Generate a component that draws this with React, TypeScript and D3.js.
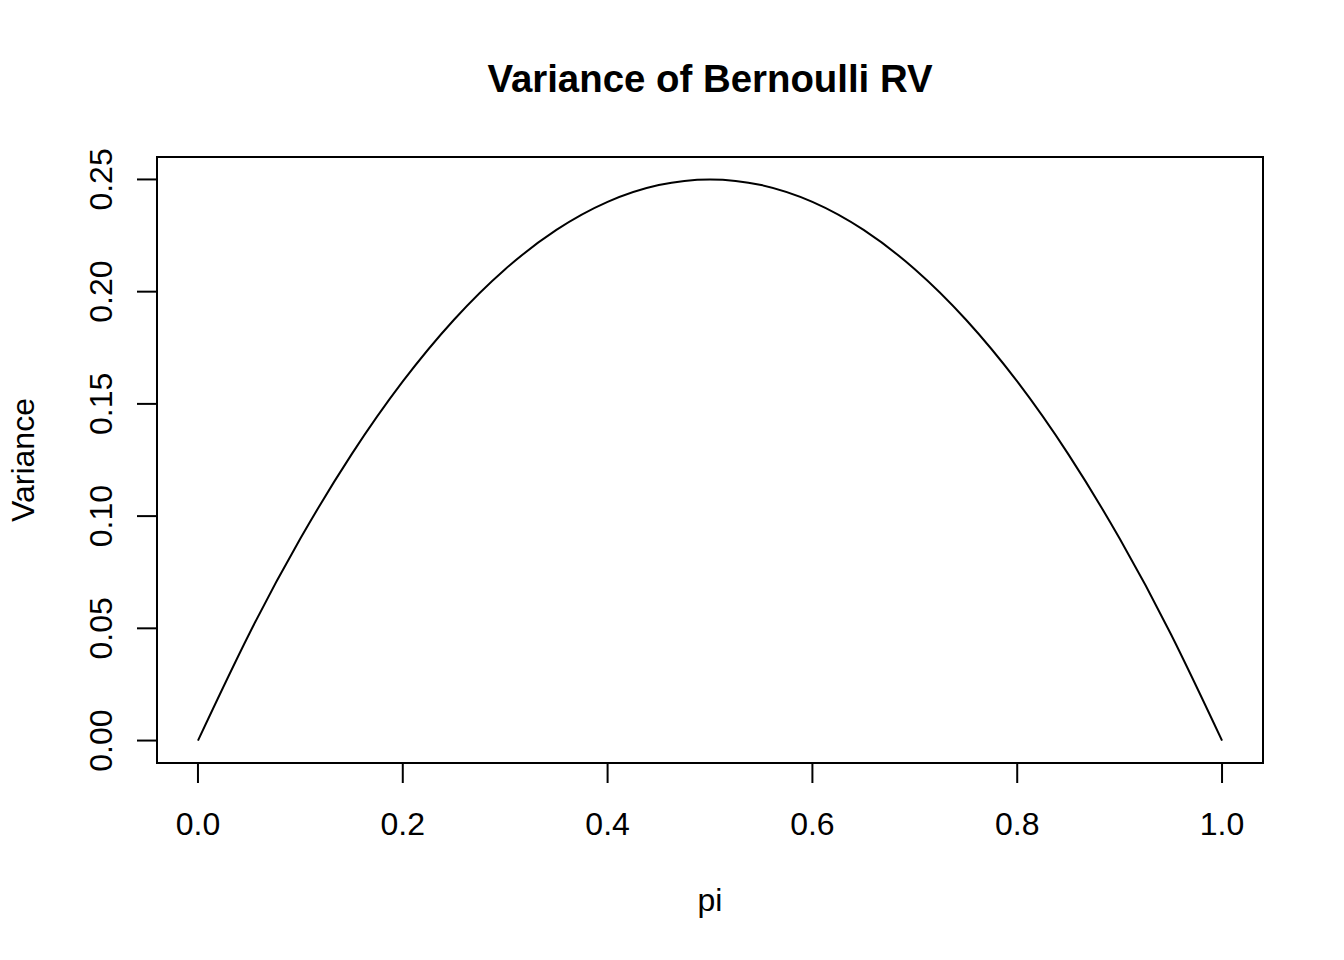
import React, {useEffect, useRef} from 'react';
import * as d3 from 'd3';

// values
const piValues: number[] = [0, 0.05, 0.1, 0.15, 0.2, 0.25, 0.3, 0.35, 0.4, 0.45, 0.5,
  0.55, 0.6, 0.65, 0.7, 0.75, 0.8, 0.85, 0.9, 0.95, 1.0];
const varianceValues: number[] = [0, 0.0475, 0.09, 0.1275, 0.16, 0.1875, 0.21, 0.2275, 0.24, 0.2475, 0.25,
  0.2475, 0.24, 0.2275, 0.21, 0.1875, 0.16, 0.1275, 0.09, 0.0475, 0];

const xTicks: number[] = [0, 0.2, 0.4, 0.6, 0.8, 1.0];
const yTicks: number[] = [0, 0.05, 0.1, 0.15, 0.2, 0.25];

const chartTitle = 'Variance of Bernoulli RV';
const xLabel = 'pi';
const yLabel = 'Variance';

const App = () => {
  const ref = useRef<SVGSVGElement | null>(null);

  useEffect(() => {
    drawChart();
    return () => {
      if (ref.current) d3.select(ref.current).selectAll('*').remove();
    };
  }, []);

  const drawChart = () => {
    const width = 1344;
    const height = 960;
    // plot box (R style, 4% padding around data range)
    const box = {left: 157, right: 1263, top: 157, bottom: 763};
    const font = '"Liberation Sans", Arial, Helvetica, sans-serif';
    const fontSize = 32;

    const svg = d3.select(ref.current)
      .attr('width', width)
      .attr('height', height);

    const padX = (box.right - box.left) * 0.04 / 1.08;
    const padY = (box.bottom - box.top) * 0.04 / 1.08;

    const x = d3.scaleLinear()
      .domain([0, 1])
      .range([box.left + padX, box.right - padX]);
    const y = d3.scaleLinear()
      .domain([0, 0.25])
      .range([box.bottom - padY, box.top + padY]);

    svg.append('rect')
      .attr('x', 0).attr('y', 0)
      .attr('width', width).attr('height', height)
      .attr('fill', 'white');

    // the curve
    const pts: [number, number][] = piValues.map((p, i) => [p, varianceValues[i]]);
    const line = d3.line<[number, number]>()
      .x(d => x(d[0]))
      .y(d => y(d[1]))
      .curve(d3.curveNatural);

    svg.append('path')
      .datum(pts)
      .attr('d', line)
      .attr('fill', 'none')
      .attr('stroke', 'black')
      .attr('stroke-width', 2);

    // box
    svg.append('rect')
      .attr('x', box.left).attr('y', box.top)
      .attr('width', box.right - box.left)
      .attr('height', box.bottom - box.top)
      .attr('fill', 'none')
      .attr('stroke', 'black')
      .attr('stroke-width', 2);

    // x axis
    svg.append('line')
      .attr('x1', x(0)).attr('x2', x(1))
      .attr('y1', box.bottom).attr('y2', box.bottom)
      .attr('stroke', 'black').attr('stroke-width', 2);

    svg.selectAll('.xtick')
      .data(xTicks)
      .enter().append('line')
      .attr('class', 'xtick')
      .attr('x1', d => x(d)).attr('x2', d => x(d))
      .attr('y1', box.bottom).attr('y2', box.bottom + 20)
      .attr('stroke', 'black').attr('stroke-width', 2);

    svg.selectAll('.xlab')
      .data(xTicks)
      .enter().append('text')
      .attr('class', 'xlab')
      .attr('x', d => x(d))
      .attr('y', 835)
      .attr('text-anchor', 'middle')
      .attr('font-family', font)
      .attr('font-size', fontSize)
      .text(d => d.toFixed(1));

    // y axis
    svg.append('line')
      .attr('x1', box.left).attr('x2', box.left)
      .attr('y1', y(0)).attr('y2', y(0.25))
      .attr('stroke', 'black').attr('stroke-width', 2);

    svg.selectAll('.ytick')
      .data(yTicks)
      .enter().append('line')
      .attr('class', 'ytick')
      .attr('x1', box.left - 20).attr('x2', box.left)
      .attr('y1', d => y(d)).attr('y2', d => y(d))
      .attr('stroke', 'black').attr('stroke-width', 2);

    svg.selectAll('.ylab')
      .data(yTicks)
      .enter().append('text')
      .attr('class', 'ylab')
      .attr('transform', d => `translate(112,${y(d)}) rotate(-90)`)
      .attr('text-anchor', 'middle')
      .attr('font-family', font)
      .attr('font-size', fontSize)
      .text(d => d.toFixed(2));

    // titles
    svg.append('text')
      .attr('x', (box.left + box.right) / 2)
      .attr('y', 92)
      .attr('text-anchor', 'middle')
      .attr('font-family', font)
      .attr('font-weight', 'bold')
      .attr('font-size', fontSize * 1.2)
      .text(chartTitle);

    svg.append('text')
      .attr('x', (box.left + box.right) / 2)
      .attr('y', 911)
      .attr('text-anchor', 'middle')
      .attr('font-family', font)
      .attr('font-size', fontSize)
      .text(xLabel);

    svg.append('text')
      .attr('transform', `translate(34,${(box.top + box.bottom) / 2}) rotate(-90)`)
      .attr('text-anchor', 'middle')
      .attr('font-family', font)
      .attr('font-size', fontSize)
      .text(yLabel);
  };

  return (
    <svg ref={ref} style={{position: 'absolute', left: 0, top: 0, display: 'block'}}></svg>
  );
};

export default App;
